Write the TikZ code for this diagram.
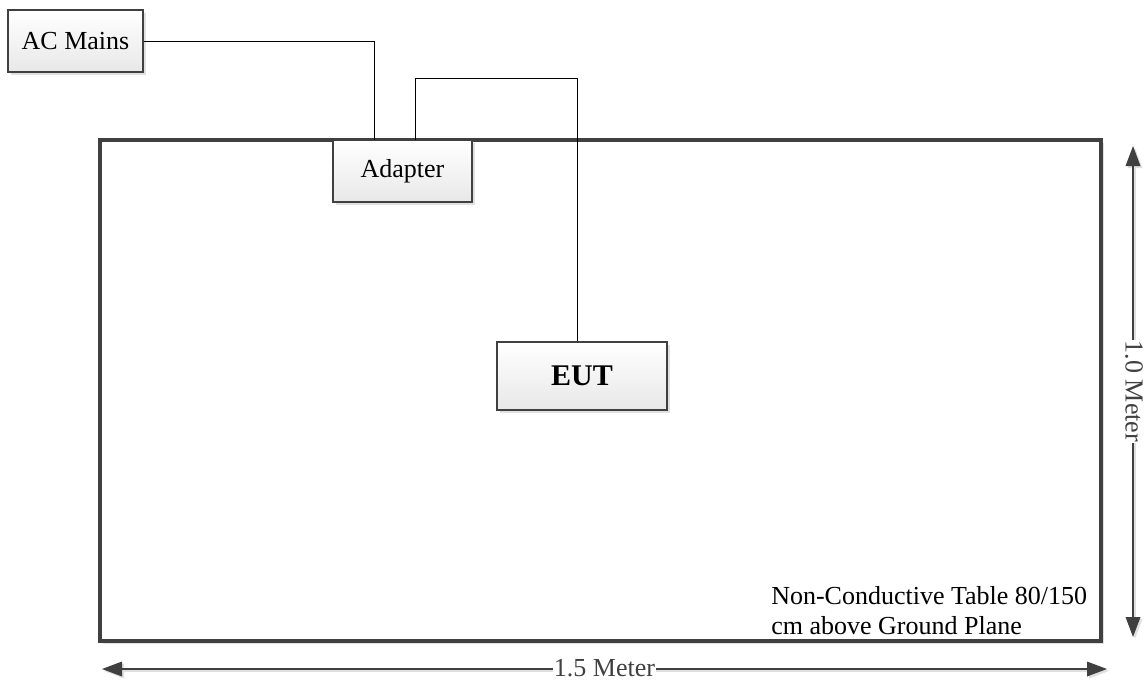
\documentclass[tikz,border=0pt]{standalone}
\usepackage{fontspec}
\setmainfont{Liberation Serif}
\usepackage{tikz}
\usetikzlibrary{arrows.meta, shadows}
\definecolor{boxline}{HTML}{404040}
\definecolor{boxshade}{HTML}{E8E8E8}
\tikzset{
  unit/.style={draw=boxline, line width=2pt, top color=white, bottom color=boxshade,
    inner sep=0pt, font=\fontsize{19.5}{22}\selectfont,
    drop shadow={shadow xshift=2.5pt, shadow yshift=-2.5pt, fill=black!12, opacity=1}},
  wire/.style={black, line width=0.75pt},
  dim/.style={boxline, line width=1pt, {Triangle[length=15pt,width=11pt]}-{Triangle[length=15pt,width=11pt]}},
  dimshadow/.style={dim, black!12, transform canvas={xshift=1.5pt, yshift=-1.5pt}},
  dimlabel/.style={fill=white, inner xsep=1pt, inner ysep=0pt, text height=11pt, text depth=0pt,
    font=\fontsize{19.5}{22}\selectfont}
}

\begin{document}
\begin{tikzpicture}[x=0.75pt, y=-0.75pt]
\useasboundingbox (0,0) rectangle (1148,683);
% table
\node[unit, draw=boxline, line width=3pt, top color=white, bottom color=white,
  minimum width=750.75pt, minimum height=375.75pt] (table) at (600.5,390.5) {};
\node[anchor=south west, inner sep=0pt, align=left, font=\fontsize{19.5}{22.5}\selectfont] (tablenote) at (771,635)
  {Non-Conductive Table 80/150\\cm above Ground Plane};
% units
\node[unit, minimum width=101.25pt, minimum height=46.5pt] (mains) at (75.5,41) {AC Mains};
\node[unit, minimum width=104.25pt, minimum height=46.5pt] (adapter) at (402.5,171) {Adapter};
\node[unit, minimum width=127.5pt, minimum height=51pt, font=\fontsize{22.5}{26}\selectfont\bfseries] (eut) at (582,376) {EUT};
% wiring
\coordinate (adin) at (374,140);
\coordinate (adout) at (415,140);
\coordinate (dcturn) at (577,78);
\draw[wire] (mains.east) -| (adin);
\draw[wire] (adout) |- (dcturn) -- (dcturn |- eut.north);
% dimensions
\coordinate (wleft) at (102,669);
\coordinate (wright) at (1107,669);
\coordinate (htop) at (1133,146);
\coordinate (hbot) at (1133,637);
\draw[dimshadow] (wleft) -- (wright);
\draw[dimshadow] (htop) -- (hbot);
\draw[dim] (wleft) -- (wright) node[dimlabel, midway] (width) {1.5 Meter};
\draw[dim] (htop) -- (hbot) node[dimlabel, midway, rotate=-90] (height) {1.0 Meter};
\end{tikzpicture}
\end{document}
